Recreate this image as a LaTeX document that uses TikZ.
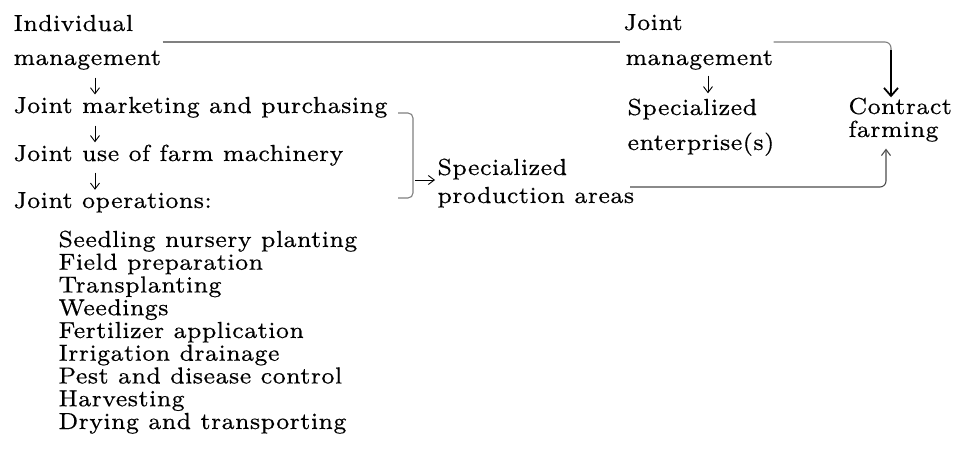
\documentclass[tikz,border=0pt]{standalone}
\usepackage{fontspec}
\usetikzlibrary{arrows.meta,calc}
% Latin Modern at a small optical size (sturdier, wider), barely tracked, a touch heavier
\newfontfamily\figfam{lmroman7-regular.otf}[LetterSpace=1, FakeBold=0.4]
\newcommand\figfont{\figfam\fontsize{11.6pt}{13pt}\selectfont}
\tikzset{
  txt/.style={anchor=base west, inner sep=0pt, font=\figfont},
  rule/.style={draw=black!50, line width=0.55pt},
  tick/.style={draw=black, line width=0.45pt, -{Straight Barb[length=3pt,width=4.5pt]}},
  boldarrow/.style={draw=black, line width=0.9pt, -{Straight Barb[length=4pt,width=7pt,line width=0.9pt]}}
}
\begin{document}
\begin{tikzpicture}[x=0.5pt,y=-0.5pt]
\useasboundingbox (0,0) rectangle (954,476);

% left column: individual management and its stages
\node[txt] (ind)  at (13,31)  {Individual};
\node[txt] (indm) at (13,65)  {management};
\node[txt] (jmp)  at (13,113) {Joint marketing and purchasing};
\node[txt] (jfm)  at (13,161) {Joint use of farm machinery};
\node[txt] (jop)  at (13,208) {Joint operations:};
\foreach \t [count=\i from 0] in {Seedling nursery planting, Field preparation,
    Transplanting, Weedings, Fertilizer application, Irrigation drainage,
    Pest and disease control, Harvesting, Drying and transporting}
  \node[txt] (op\i) at (58,{247+22.75*\i}) {\t};

% middle: specialized production areas
\node[txt] (spa) at (437,175) {Specialized};
\node[txt] (spb) at (437,203) {production areas};

% right column: joint management
\node[txt] (jnt)  at (623,30)  {Joint};
\node[txt] (jntm) at (625,65)  {management};
\node[txt] (spe)  at (627,115) {Specialized};
\node[txt] (ent)  at (627,150) {enterprise(s)};

% contract farming
\node[txt] (con) at (848,114) {Contract};
\node[txt] (far) at (848,137) {farming};

% helper coordinates
\coordinate (colA) at (95,0);
\coordinate (colB) at (708,0);
\coordinate (colC) at (891,0);
\coordinate (colD) at (886,0);
\coordinate (hy) at (0,42);
\coordinate (by) at (0,187);

% small downward arrows between the stages
\draw[tick, shorten <=3.75pt, shorten >=1pt] (indm.south -| colA) -- (jmp.north -| colA);
\draw[tick, shorten <=3.75pt, shorten >=1pt] (jmp.south -| colA) -- (jfm.north -| colA);
\draw[tick, shorten <=3.25pt, shorten >=1pt] (jfm.south -| colA) -- (jop.north -| colA);
\draw[tick, shorten <=2.75pt, shorten >=2.5pt] (jntm.south -| colB) -- (spe.north -| colB);

% line from individual to joint management
\coordinate (hs) at ($(ind.east |- hy)+(29,0)$);
\coordinate (he) at ($(jnt.west |- hy)+(-3,0)$);
\draw[rule] (hs) -- (he);

% joint management to contract farming
\coordinate (tr) at ($(colC |- hy)+(0,8)$);
\draw[rule, rounded corners=3pt] (jntm.east |- hy) -| (tr);
\draw[boldarrow] (tr) -- (con.north -| colC);

% bracket gathering the joint stages
\coordinate (bt) at (398,113);
\coordinate (bb) at (398,198);
\coordinate (bx) at (413,0);
\draw[rule, rounded corners=2.5pt] (bt) -| (bx |- bb) -- (bb);
\coordinate (ba) at (415,180);
\draw[tick, shorten >=1pt] (ba) -- (spa.west |- ba);

% specialized production areas to contract farming
\coordinate (bs) at ($(ent.west |- by)+(3,0)$);
\draw[rule, draw=black!70, rounded corners=3pt, -{Straight Barb[length=3pt,width=4.5pt]}, shorten >=3.25pt]
  (bs) -| (far.south -| colD);
\end{tikzpicture}
\end{document}
